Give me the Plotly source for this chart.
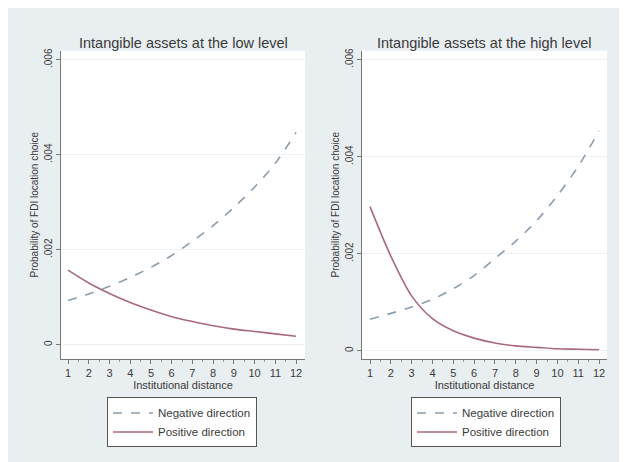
import plotly.graph_objects as go

W, H = 627, 462
OX, OY = 8, 8          # default page body margin in the browser
FW, FH = W - OX, H - OY

distance = [1, 2, 3, 4, 5, 6, 7, 8, 9, 10, 11, 12]

low_negative = [0.00093, 0.00107, 0.00123, 0.00142, 0.00163, 0.00188,
                0.00218, 0.00251, 0.00289, 0.00332, 0.00382, 0.00447]
low_positive = [0.00157, 0.00130, 0.00108, 0.00089, 0.00073, 0.00059,
                0.00049, 0.00040, 0.00033, 0.00028, 0.00023, 0.00018]

high_negative = [0.00065, 0.00077, 0.00090, 0.00106, 0.00128, 0.00155,
                 0.00190, 0.00226, 0.00268, 0.00320, 0.00380, 0.00453]
high_positive = [0.00297, 0.00195, 0.00113, 0.00066, 0.00041, 0.00026,
                 0.00016, 0.00010, 0.00007, 0.00004, 0.00003, 0.00002]

y_ticks = [0, 0.002, 0.004, 0.006]
y_tick_labels = ["0", ".002", ".004", ".006"]

titles = ["Intangible assets at the low level", "Intangible assets at the high level"]
series_names = ["Negative direction", "Positive direction"]

NEG_COLOR = "#8b9eb0"
POS_COLOR = "#a8687f"
FONT = "Liberation Sans, Arial, sans-serif"
TXT = "#3a3a3a"


def px_x(p):
    return (p - OX) / FW


def px_y(p):
    return 1 - (p - OY) / FH


fig = go.Figure()

panels = [
    dict(neg=low_negative, pos=low_positive, xa="x", ya="y", leg="legend"),
    dict(neg=high_negative, pos=high_positive, xa="x2", ya="y2", leg="legend2"),
]
for p in panels:
    fig.add_trace(go.Scatter(x=distance, y=p["neg"], mode="lines", name=series_names[0],
                             line=dict(color=NEG_COLOR, width=1.6, dash="dash",
                                       shape="spline", smoothing=0.8),
                             xaxis=p["xa"], yaxis=p["ya"], legend=p["leg"]))
    fig.add_trace(go.Scatter(x=distance, y=p["pos"], mode="lines", name=series_names[1],
                             line=dict(color=POS_COLOR, width=1.6,
                                       shape="spline", smoothing=0.8),
                             xaxis=p["xa"], yaxis=p["ya"], legend=p["leg"]))

xcommon = dict(tickmode="array", tickvals=distance, ticks="outside", ticklen=4,
               tickcolor="#777", showline=True, linecolor="#777", linewidth=1,
               showgrid=False, zeroline=False,
               minor=dict(dtick=0.5, tick0=0.5, ticks="outside", ticklen=2, tickcolor="#999"),
               tickfont=dict(size=11, color=TXT, family=FONT),
               title=dict(text="Institutional distance", font=dict(size=11, color=TXT, family=FONT),
                          standoff=0))
ycommon = dict(tickmode="array", tickvals=y_ticks, ticktext=y_tick_labels, ticks="outside",
               ticklen=4, tickcolor="#777", showline=True, linecolor="#777", linewidth=1,
               showgrid=True, gridcolor="#edf1f4", gridwidth=1, zeroline=False,
               tickangle=-90, ticklabelstandoff=0,
               tickfont=dict(size=10, color=TXT, family=FONT),
               title=dict(text="Probability of FDI location choice",
                          font=dict(size=10, color=TXT, family=FONT), standoff=2))

legend_common = dict(yanchor="top", xanchor="center", bgcolor="#ffffff", bordercolor="#555",
                     borderwidth=1, font=dict(size=11.5, color=TXT, family=FONT),
                     tracegroupgap=0, itemwidth=40)

fig.update_layout(
    width=FW, height=FH,
    margin=dict(l=0, r=0, t=0, b=0),
    paper_bgcolor="#e9eef1",
    plot_bgcolor="#ffffff",
    font=dict(family=FONT, color=TXT),
    xaxis=dict(xcommon, domain=[px_x(61), px_x(305)], range=[0.662, 12.43], anchor="y"),
    yaxis=dict(ycommon, domain=[px_y(358), px_y(48)], range=[-0.000293, 0.00619], anchor="x"),
    xaxis2=dict(xcommon, domain=[px_x(362), px_x(607)], range=[0.616, 12.38], anchor="y2"),
    yaxis2=dict(ycommon, domain=[px_y(358), px_y(48)], range=[-0.000164, 0.006184], anchor="x2"),
    legend=dict(legend_common, x=px_x(182), y=px_y(397)),
    legend2=dict(legend_common, x=px_x(486), y=px_y(397)),
    annotations=[
        dict(text=titles[0], x=px_x(183), y=px_y(40), xref="paper", yref="paper",
             xanchor="center", yanchor="middle",
             showarrow=False, font=dict(size=14.5, color=TXT, family=FONT)),
        dict(text=titles[1], x=px_x(484), y=px_y(40), xref="paper", yref="paper",
             xanchor="center", yanchor="middle",
             showarrow=False, font=dict(size=14.5, color=TXT, family=FONT)),
    ],
    showlegend=True,
)

fig.write_html("out.html")
